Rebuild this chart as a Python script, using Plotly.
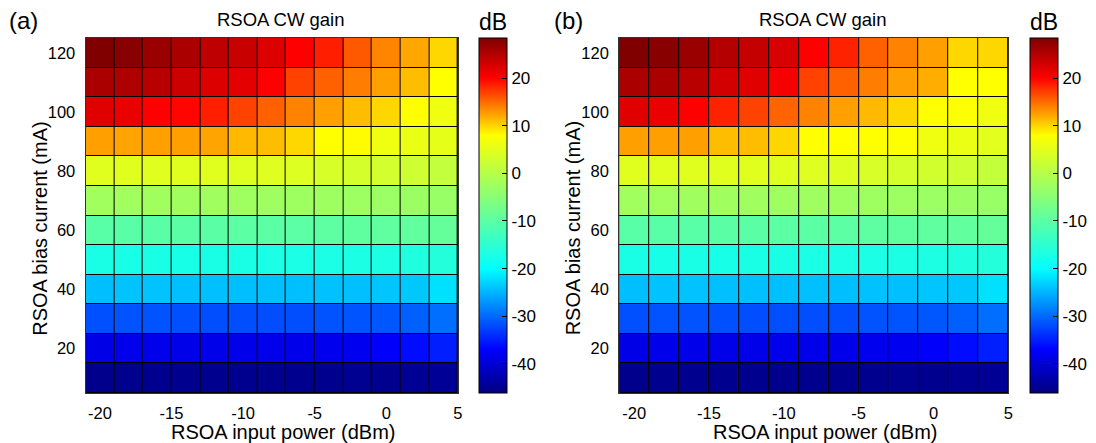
import plotly.graph_objects as go

# ---------------- data ----------------
input_power = [-20, -18, -16, -14, -12, -10, -8, -6, -4, -2, 0, 2, 4]
bias_current = [10, 20, 30, 40, 50, 60, 70, 80, 90, 100, 110, 120]
x_ticks = [-20, -15, -10, -5, 0, 5]
x_tick_text = ["-20", "-15", "-10", "-5", "0", "5"]
y_ticks = [20, 40, 60, 80, 100, 120]
cbar_ticks = [-40, -30, -20, -10, 0, 10, 20]
cbar_tick_text = ["-40", "-30", "-20", "-10", "0", "10", "20"]

# rows listed from 120 mA (top) down to 10 mA (bottom)
gain_a_top_down = [
    [28.4, 27.8, 26.6, 25.6, 24.3, 23.6, 22.3, 20.0, 18.6, 15.8, 13.8, 12.2, 9.9],
    [25.6, 25.3, 24.6, 23.3, 22.3, 21.7, 20.0, 16.9, 15.5, 14.1, 12.5, 11.1, 8.0],
    [22.0, 21.3, 20.0, 19.8, 18.6, 16.9, 15.5, 13.9, 12.5, 11.1, 9.9, 8.0, 6.4],
    [12.5, 12.3, 12.5, 12.5, 12.3, 11.3, 11.1, 9.9, 8.0, 8.2, 6.4, 5.8, 5.3],
    [4.7, 4.7, 4.6, 4.6, 4.6, 4.5, 4.4, 4.3, 3.6, 3.4, 3.1, 2.5, 1.4],
    [-2.3, -2.3, -2.4, -2.4, -2.4, -2.5, -2.5, -2.6, -2.7, -2.8, -2.9, -3.0, -3.2],
    [-10.3, -10.2, -10.2, -10.1, -10.1, -10.0, -10.0, -9.9, -9.8, -9.6, -9.5, -9.3, -9.0],
    [-17.3, -17.4, -17.3, -17.4, -17.3, -17.3, -17.2, -17.2, -17.1, -17.0, -16.9, -16.6, -16.0],
    [-24.3, -24.0, -24.0, -24.2, -24.2, -24.3, -24.2, -24.3, -24.1, -24.2, -23.9, -23.7, -22.0],
    [-31.7, -31.5, -31.5, -31.7, -31.8, -31.8, -31.8, -31.8, -31.5, -31.4, -31.2, -30.7, -29.7],
    [-38.8, -38.5, -38.4, -38.6, -38.6, -38.5, -38.5, -38.4, -38.2, -38.0, -37.3, -36.3, -35.0],
    [-45.2, -45.0, -45.0, -45.1, -45.1, -45.0, -45.0, -45.1, -45.0, -44.9, -45.0, -44.7, -44.5],
]
gain_b_top_down = [
    [28.4, 27.8, 26.6, 24.9, 23.9, 22.6, 20.0, 18.4, 15.5, 13.9, 12.5, 9.9, 9.9],
    [25.6, 25.6, 24.6, 23.0, 22.0, 20.6, 16.9, 15.5, 14.1, 12.5, 11.8, 8.0, 8.0],
    [22.0, 21.3, 20.0, 18.4, 16.9, 15.3, 13.9, 12.5, 11.3, 9.9, 8.0, 7.8, 6.4],
    [12.5, 12.5, 12.5, 11.1, 11.1, 9.9, 8.0, 8.0, 8.0, 7.9, 6.4, 5.8, 4.9],
    [4.7, 4.7, 4.6, 4.6, 4.6, 4.5, 4.4, 4.3, 3.7, 3.4, 3.0, 2.5, 1.5],
    [-2.3, -2.3, -2.4, -2.4, -2.4, -2.5, -2.5, -2.6, -2.7, -2.8, -2.9, -3.0, -3.2],
    [-10.3, -10.2, -10.2, -10.1, -10.1, -10.0, -10.0, -9.9, -9.8, -9.6, -9.5, -9.3, -9.0],
    [-17.3, -17.4, -17.3, -17.4, -17.3, -17.3, -17.2, -17.2, -17.1, -17.0, -16.9, -16.6, -16.0],
    [-24.3, -24.0, -24.0, -24.2, -24.2, -24.3, -24.2, -24.3, -24.1, -24.2, -23.9, -23.7, -22.0],
    [-31.7, -31.5, -31.5, -31.7, -31.8, -31.8, -31.8, -31.8, -31.5, -31.4, -31.2, -30.7, -29.7],
    [-38.8, -38.5, -38.4, -38.6, -38.6, -38.5, -38.5, -38.4, -38.2, -38.0, -37.3, -36.3, -35.0],
    [-45.2, -45.0, -45.0, -45.1, -45.1, -45.0, -45.0, -45.1, -45.0, -44.9, -45.0, -44.7, -44.5],
]
gain_a = gain_a_top_down[::-1]
gain_b = gain_b_top_down[::-1]

# ---------------- style ----------------
W, H = 1096, 443
FONT = "Liberation Sans, Arial, sans-serif"
CMIN, CMAX = -46.1, 28.4
anchors = [(-46.1, "rgb(0,0,128)"), (-37.0, "rgb(0,0,255)"), (-20.0, "rgb(0,255,255)"),
           (8.0, "rgb(255,255,0)"), (20.0, "rgb(255,0,0)"), (28.4, "rgb(128,0,0)")]
colorscale = [[(v - CMIN) / (CMAX - CMIN), c] for v, c in anchors]


def px_x(p):
    return p / W


def px_y(p):
    return 1 - p / H


panels = [
    dict(z=gain_a, x0=86, x1=460, cb=481, label="(a)", label_x=7),
    dict(z=gain_b, x0=622, x1=1013, cb=1035, label="(b)", label_x=555),
]
PT, PB = 38, 393

fig = go.Figure()
annotations = []


def ann(text, x, y, size, xanchor="center", angle=0):
    return dict(text=text, x=px_x(x), y=px_y(y), xref="paper", yref="paper",
                xanchor=xanchor, yanchor="middle", textangle=angle, showarrow=False,
                font=dict(family=FONT, size=size, color="black"))


for i, p in enumerate(panels):
    sx = "" if i == 0 else str(i + 1)
    fig.add_trace(go.Heatmap(
        z=p["z"], x=input_power, y=bias_current,
        xaxis="x" + sx, yaxis="y" + sx,
        colorscale=colorscale, zmin=CMIN, zmax=CMAX,
        xgap=1, ygap=1,
        colorbar=dict(
            x=px_x(p["cb"]), xanchor="left", xpad=0,
            y=px_y(PB), yanchor="bottom", ypad=0,
            len=(PB - PT) / H, lenmode="fraction",
            thickness=28, thicknessmode="pixels",
            outlinecolor="black", outlinewidth=1,
            ticks="inside", ticklen=5, tickcolor="black",
            tickvals=cbar_ticks, ticktext=cbar_tick_text,
            tickfont=dict(family=FONT, size=17, color="black"),
        ),
    ))
    fig.update_layout(**{
        "xaxis" + sx: dict(
            domain=[px_x(p["x0"]), px_x(p["x1"])], range=[-21, 5],
            tickvals=x_ticks, ticktext=x_tick_text,
            ticks="outside", ticklen=5, tickcolor="rgba(0,0,0,0)",
            showline=True, mirror=True, linecolor="#333", linewidth=1,
            showgrid=False, zeroline=False, anchor="y" + sx,
            tickfont=dict(family=FONT, size=16.5, color="black"),
        ),
        "yaxis" + sx: dict(
            domain=[px_y(PB), px_y(PT)], range=[5, 125],
            tickvals=y_ticks, ticks="outside", ticklen=6, tickcolor="rgba(0,0,0,0)",
            showline=True, mirror=True, linecolor="#333", linewidth=1,
            showgrid=False, zeroline=False, anchor="x" + sx,
            tickfont=dict(family=FONT, size=16.5, color="black"),
        ),
    })
    cx = (p["x0"] + p["x1"]) / 2
    annotations += [
        ann(p["label"], p["label_x"], 21, 24, xanchor="left"),
        ann("RSOA CW gain", cx + 9, 19, 18.5),
        ann("dB", p["cb"] + 14, 22, 23),
        ann("RSOA input power (dBm)", cx + 12, 432, 20),
        ann("RSOA bias current (mA)", p["x0"] - 46, 228, 20, angle=-90),
    ]

fig.update_layout(
    width=W, height=H, margin=dict(l=0, r=0, t=0, b=0),
    paper_bgcolor="white", plot_bgcolor="black",
    annotations=annotations, showlegend=False,
)
fig.write_html("out.html")
